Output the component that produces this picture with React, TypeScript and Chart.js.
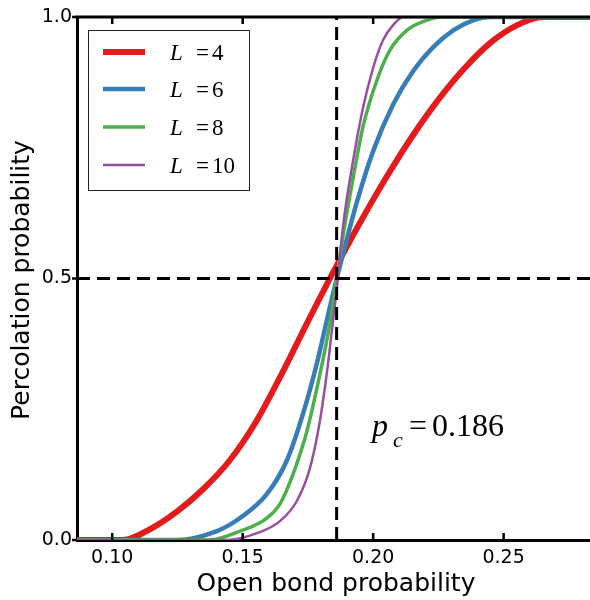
import React, { useEffect, useRef } from "react";
import { Chart, registerables } from "chart.js";

Chart.register(...registerables);

// ---- data ----
const seriesNames = ["4", "6", "8", "10"];
const seriesColors = ["#e41a1c", "#377eb8", "#4daf4a", "#984ea3"];

const x4 = [0.08, 0.104, 0.115, 0.125, 0.135, 0.145, 0.155, 0.165, 0.175, 0.185, 0.195, 0.205, 0.215, 0.225, 0.235, 0.245, 0.255, 0.265, 0.3];
const y4 = [0, 0, 0.022, 0.055, 0.098, 0.152, 0.225, 0.318, 0.418, 0.515, 0.607, 0.693, 0.772, 0.842, 0.902, 0.951, 0.984, 1, 1];

const x6 = [0.08, 0.1248, 0.1401, 0.149, 0.1593, 0.167, 0.1731, 0.1784, 0.1822, 0.1853, 0.1886, 0.1937, 0.2001, 0.2078, 0.2155, 0.2231, 0.2308, 0.2385, 0.245, 0.3];
const y6 = [0, 0, 0.017, 0.042, 0.088, 0.153, 0.241, 0.337, 0.419, 0.485, 0.55, 0.645, 0.745, 0.834, 0.898, 0.943, 0.975, 0.994, 1, 1];

const x8 = [0.08, 0.1375, 0.149, 0.1593, 0.1643, 0.1693, 0.1746, 0.1796, 0.1834, 0.1857, 0.1885, 0.1923, 0.1961, 0.2015, 0.2065, 0.213, 0.2206, 0.226, 0.3];
const y8 = [0, 0, 0.017, 0.042, 0.069, 0.126, 0.208, 0.317, 0.413, 0.489, 0.583, 0.692, 0.79, 0.88, 0.937, 0.975, 0.994, 1, 1];

const x10 = [0.08, 0.144, 0.1555, 0.1643, 0.1708, 0.1758, 0.1796, 0.1827, 0.1846, 0.1861, 0.1885, 0.1923, 0.1961, 0.2, 0.2038, 0.2077, 0.2115, 0.3];
const y10 = [0, 0, 0.013, 0.036, 0.075, 0.138, 0.228, 0.337, 0.419, 0.482, 0.602, 0.725, 0.826, 0.903, 0.956, 0.985, 1, 1];

const xTicks = [0.1, 0.15, 0.2, 0.25];
const yTicks = [0.0, 0.5, 1.0];
const pc = 0.186;
const pcLabel = "0.186";
const xMin = 0.0865;
const xMax = 0.29;
const xTitle = "Open bond probability";
const yTitle = "Percolation probability";

const seriesX = [x4, x6, x8, x10];
const seriesY = [y4, y6, y8, y10];
const lineWidths = [6, 4.5, 3.5, 2.5];

const overlay = {
  id: "overlay",
  afterDatasetsDraw(chart: any) {
    const ctx = chart.ctx as CanvasRenderingContext2D;
    const xs = chart.scales.x;
    const ys = chart.scales.y;
    const a = chart.chartArea;
    ctx.save();
    // dashed reference lines
    ctx.strokeStyle = "#000";
    ctx.lineWidth = 3;
    ctx.setLineDash([13, 7]);
    const vx = xs.getPixelForValue(pc);
    ctx.beginPath();
    ctx.moveTo(vx, a.bottom);
    ctx.lineTo(vx, a.top);
    ctx.stroke();
    const hy = ys.getPixelForValue(0.5);
    ctx.beginPath();
    ctx.moveTo(a.left, hy);
    ctx.lineTo(a.right, hy);
    ctx.stroke();
    ctx.setLineDash([]);
    // top border
    ctx.lineWidth = 3;
    ctx.beginPath();
    ctx.moveTo(a.left - 1.5, a.top);
    ctx.lineTo(a.right, a.top);
    ctx.stroke();
    // ticks
    ctx.lineWidth = 2.5;
    for (const t of xTicks) {
      const px = xs.getPixelForValue(t);
      ctx.beginPath();
      ctx.moveTo(px, a.bottom);
      ctx.lineTo(px, a.bottom - 7);
      ctx.moveTo(px, a.top);
      ctx.lineTo(px, a.top + 7);
      ctx.stroke();
    }
    for (const t of yTicks) {
      const py = ys.getPixelForValue(t);
      ctx.beginPath();
      ctx.moveTo(a.left, py);
      ctx.lineTo(a.left - 5, py);
      ctx.stroke();
    }
    // legend
    ctx.fillStyle = "#fff";
    ctx.fillRect(88.5, 30.5, 161, 160);
    ctx.strokeStyle = "#222";
    ctx.lineWidth = 1;
    ctx.strokeRect(88.5, 30.5, 161, 160);
    const rowY = [52, 89, 127, 165];
    seriesNames.forEach((n, i) => {
      ctx.strokeStyle = seriesColors[i];
      ctx.lineWidth = lineWidths[i];
      ctx.beginPath();
      ctx.moveTo(103, rowY[i]);
      ctx.lineTo(145, rowY[i]);
      ctx.stroke();
      ctx.fillStyle = "#000";
      ctx.textBaseline = "alphabetic";
      ctx.textAlign = "left";
      ctx.font = "italic 23px 'Liberation Serif'";
      ctx.fillText("L", 170, rowY[i] + 8);
      ctx.font = "23px 'Liberation Serif'";
      ctx.fillText("=", 196, rowY[i] + 8);
      ctx.fillText(n, 212, rowY[i] + 8);
    });
    // p_c annotation
    ctx.fillStyle = "#000";
    ctx.font = "italic 32px 'Liberation Serif'";
    ctx.fillText("p", 372, 436);
    ctx.font = "italic 22px 'Liberation Serif'";
    ctx.fillText("c", 393, 447);
    ctx.font = "32px 'Liberation Serif'";
    ctx.fillText("=", 409, 436);
    ctx.fillText(pcLabel, 432, 436);
    // axis titles
    ctx.font = "25px 'DejaVu Sans'";
    ctx.textAlign = "center";
    ctx.fillText(xTitle, 336, 591);
    ctx.save();
    ctx.translate(29, 280);
    ctx.rotate(-Math.PI / 2);
    ctx.fillText(yTitle, 0, 0);
    ctx.restore();
    ctx.restore();
  },
};

export default function App() {
  const ref = useRef<HTMLCanvasElement | null>(null);
  useEffect(() => {
    const canvas = ref.current;
    if (!canvas) return;
    const datasets = seriesNames.map((n, i) => ({
      label: "L=" + n,
      data: seriesX[i].map((x, j) => ({ x, y: seriesY[i][j] })),
      borderColor: seriesColors[i],
      backgroundColor: seriesColors[i],
      borderWidth: lineWidths[i],
      pointRadius: 0,
      fill: false,
      cubicInterpolationMode: "monotone" as const,
      order: seriesNames.length - i,
    }));
    const chart = new Chart(canvas, {
      type: "line",
      data: { datasets },
      plugins: [overlay],
      options: {
        animation: false,
        responsive: false,
        devicePixelRatio: 1,
        layout: { padding: { left: 0, right: 12, top: 17, bottom: 0 } },
        plugins: { legend: { display: false }, tooltip: { enabled: false } },
        scales: {
          x: {
            type: "linear",
            min: xMin,
            max: xMax,
            afterBuildTicks: (s: any) => {
              s.ticks = xTicks.map((v) => ({ value: v }));
            },
            afterFit: (s: any) => {
              s.height = 60;
            },
            grid: { display: false, drawTicks: false },
            border: { display: true, color: "#000", width: 3 },
            ticks: {
              autoSkip: false,
              maxRotation: 0,
              padding: 7,
              color: "#000",
              font: { family: "'DejaVu Sans'", size: 19 },
              callback: (v: any) => Number(v).toFixed(2),
            },
          },
          y: {
            type: "linear",
            min: 0,
            max: 1,
            afterBuildTicks: (s: any) => {
              s.ticks = yTicks.map((v) => ({ value: v }));
            },
            afterFit: (s: any) => {
              s.width = 77;
            },
            grid: { display: false, drawTicks: false },
            border: { display: true, color: "#000", width: 3 },
            ticks: {
              autoSkip: false,
              padding: 5,
              color: "#000",
              font: { family: "'DejaVu Sans'", size: 19 },
              callback: (v: any) => Number(v).toFixed(1),
            },
          },
        },
      },
    });
    return () => chart.destroy();
  }, []);
  return (
    <div style={{ position: "fixed", left: 0, top: 0, width: 590, height: 600, overflow: "hidden", background: "#fff" }}>
      <canvas ref={ref} width={620} height={600} style={{ display: "block", width: 620, height: 600 }} />
    </div>
  );
}
